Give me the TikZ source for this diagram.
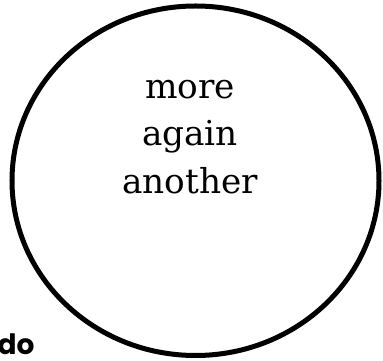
\documentclass[tikz,border=0pt]{standalone}
\usepackage{fontspec}
\setmainfont{DejaVu Serif}
\newfontfamily\labelfont{Poppins}
\usetikzlibrary{shapes.geometric}

\tikzset{
  bubble/.style={draw, ellipse, line width=5pt, inner sep=0pt,
    minimum width=367pt, minimum height=349.5pt},
  words/.style={align=center, anchor=base,
    font={\fontsize{34.3}{47.5}\selectfont}},
  tag/.style={anchor=base west, inner sep=0pt,
    font={\labelfont\bfseries\fontsize{28}{32}\selectfont}}
}

\begin{document}
\begin{tikzpicture}[x=1pt,y=1pt]
\useasboundingbox (0,0) rectangle (383,361);

% Outer shape
\node[bubble] (outer) at (195.5,180.25) {};

% Text inside
\node[words] (inside) at (190,167.7) {more\\again\\another};

% Label at the bottom left
\node[tag] (lbl) at (-2.5,6) {do};

\end{tikzpicture}
\end{document}
